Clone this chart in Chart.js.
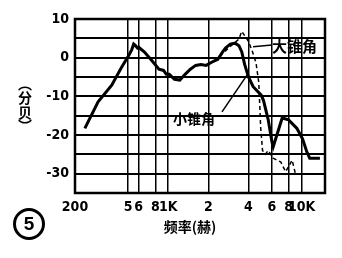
<!DOCTYPE html>
<html>
<head>
<meta charset="utf-8">
<script src="https://cdn.jsdelivr.net/npm/chart.js@4.4.0/dist/chart.umd.min.js"></script>
<style>
html, body { margin: 0; padding: 0; background: #fff; }
#wrap { width: 342px; height: 258px; }
</style>
</head>
<body>
<div id="wrap"><canvas id="c"></canvas></div>
<script>
// 小锥角 (solid)
const smallFreq = [237, 298, 377, 445, 507, 533, 551, 569, 588, 600, 661, 756, 852, 923, 968,
    1018, 1116, 1222, 1339, 1467, 1607, 1760, 1928, 2100, 2358, 2560, 2690, 2922, 3175, 3393,
    3564, 3744, 4000, 4338, 4987, 5189, 5621, 6000, 6134, 7162, 8000, 9239, 10178, 10920, 11515, 13740];
const smallDb = [-18.3, -11.4, -7.1, -2.6, 0.6, 2.1, 3.5, 3.1, 2.5, 2.7, 1.5, -0.8, -3, -3.3, -4.3,
    -4.3, -5.6, -5.8, -4.3, -3, -2, -1.75, -2, -1.25, -0.4, 1.5, 2.5, 3.5, 3.75, 3.1,
    1.5, -1.75, -5, -7.5, -9.7, -11.1, -16, -21.8, -23, -15.6, -16.1, -18.3, -21, -24.2, -26, -26];

// 大锥角 (dashed)
const largeFreq = [2438, 2874, 3393, 3564, 4000, 4269, 4554, 4779, 4857, 4937, 5100, 5350, 5620, 6130, 7000, 7600, 8500, 9000];
const largeDb = [0.4, 2.7, 4.8, 6.8, 4.2, 1.7, -1.25, -6.4, -11.9, -18, -24, -25, -24, -26, -27, -29.5, -26.5, -30];

const xTickValues = [200, 500, 600, 800, 1000, 2000, 4000, 6000, 8000, 10000];
const xTickLabels = ['200', '5', '6', '8', '1K', '2', '4', '6', '8', '10K'];
const yMin = -35, yMax = 10, yStep = 5;

function toPoints(xs, ys) {
    return xs.map(function (x, i) { return { x: x, y: ys[i] }; });
}

const tickFont = { family: "'Liberation Sans Narrow', 'DejaVu Sans Condensed', sans-serif", size: 14, weight: 'bold' };
const cjk = "'Noto Sans CJK SC', sans-serif";

// frame, axis titles, labels
const extras = {
    id: 'extras',
    afterDraw: function (chart) {
        const ctx = chart.ctx;
        const a = chart.chartArea;
        const xs = chart.scales.x, ys = chart.scales.y;
        ctx.save();
        ctx.strokeStyle = '#000';
        ctx.lineWidth = 2.5;
        ctx.strokeRect(a.left, a.top, a.right - a.left, a.bottom - a.top);

        ctx.fillStyle = '#000';
        ctx.textAlign = 'center';
        ctx.textBaseline = 'middle';

        // y title, upright characters
        ctx.font = 'bold 14px ' + cjk;
        const yChars = ['︵', '分', '贝', '︶'];
        const yPos = [84, 98, 113, 126];
        yChars.forEach(function (ch, i) { ctx.fillText(ch, 25, yPos[i]); });

        // x title
        ctx.font = 'bold 14px ' + cjk;
        ctx.fillText('频率(赫)', 190, 227);

        // circled 5
        ctx.lineWidth = 3;
        ctx.beginPath();
        ctx.arc(29, 224, 14.5, 0, Math.PI * 2);
        ctx.stroke();
        ctx.font = 'bold 19px "Liberation Sans", sans-serif';
        ctx.fillText('5', 29, 225);

        // annotations
        ctx.lineWidth = 1.5;
        ctx.beginPath();
        ctx.moveTo(xs.getPixelForValue(4328), ys.getPixelForValue(2.8));
        ctx.lineTo(xs.getPixelForValue(6005), ys.getPixelForValue(3.3));
        ctx.stroke();
        ctx.font = 'bold 15px ' + cjk;
        ctx.textAlign = 'left';
        ctx.fillText('大锥角', xs.getPixelForValue(6005), ys.getPixelForValue(3.0));

        ctx.beginPath();
        ctx.moveTo(xs.getPixelForValue(2532), ys.getPixelForValue(-14.0));
        ctx.lineTo(xs.getPixelForValue(3900), ys.getPixelForValue(-4.5));
        ctx.stroke();
        ctx.textAlign = 'center';
        ctx.font = 'bold 14px ' + cjk;
        ctx.fillText('小锥角', xs.getPixelForValue(1561), ys.getPixelForValue(-15.9));
        ctx.restore();
    }
};

new Chart(document.getElementById('c'), {
    type: 'line',
    data: {
        datasets: [{
            label: '小锥角',
            data: toPoints(smallFreq, smallDb),
            borderColor: '#000',
            borderWidth: 3,
            pointRadius: 0,
            tension: 0
        }, {
            label: '大锥角',
            data: toPoints(largeFreq, largeDb),
            borderColor: '#000',
            borderWidth: 1.5,
            borderDash: [4, 3],
            pointRadius: 0,
            tension: 0
        }]
    },
    options: {
        responsive: true,
        maintainAspectRatio: false,
        animation: false,
        layout: { padding: { left: 0, right: 17, top: 19, bottom: 0 } },
        plugins: { legend: { display: false }, tooltip: { enabled: false } },
        scales: {
            x: {
                type: 'logarithmic',
                min: 200,
                max: 15000,
                afterBuildTicks: function (s) {
                    s.ticks = xTickValues.map(function (v) { return { value: v }; });
                },
                afterFit: function (s) { s.height = 65; },
                ticks: {
                    autoSkip: false,
                    maxRotation: 0,
                    padding: 6,
                    color: '#000',
                    font: tickFont,
                    callback: function (v) {
                        const i = xTickValues.indexOf(v);
                        return i >= 0 ? xTickLabels[i] : '';
                    }
                },
                grid: { color: '#000', lineWidth: 1.5, drawTicks: false },
                border: { display: false }
            },
            y: {
                min: yMin,
                max: yMax,
                afterFit: function (s) { s.width = 75; },
                ticks: {
                    stepSize: yStep,
                    autoSkip: false,
                    padding: 6,
                    color: '#000',
                    font: tickFont,
                    callback: function (v) { return v % 10 === 0 ? String(v) : ''; }
                },
                grid: { color: '#000', lineWidth: 2, drawTicks: false },
                border: { display: false }
            }
        }
    },
    plugins: [extras]
});
</script>
</body>
</html>
